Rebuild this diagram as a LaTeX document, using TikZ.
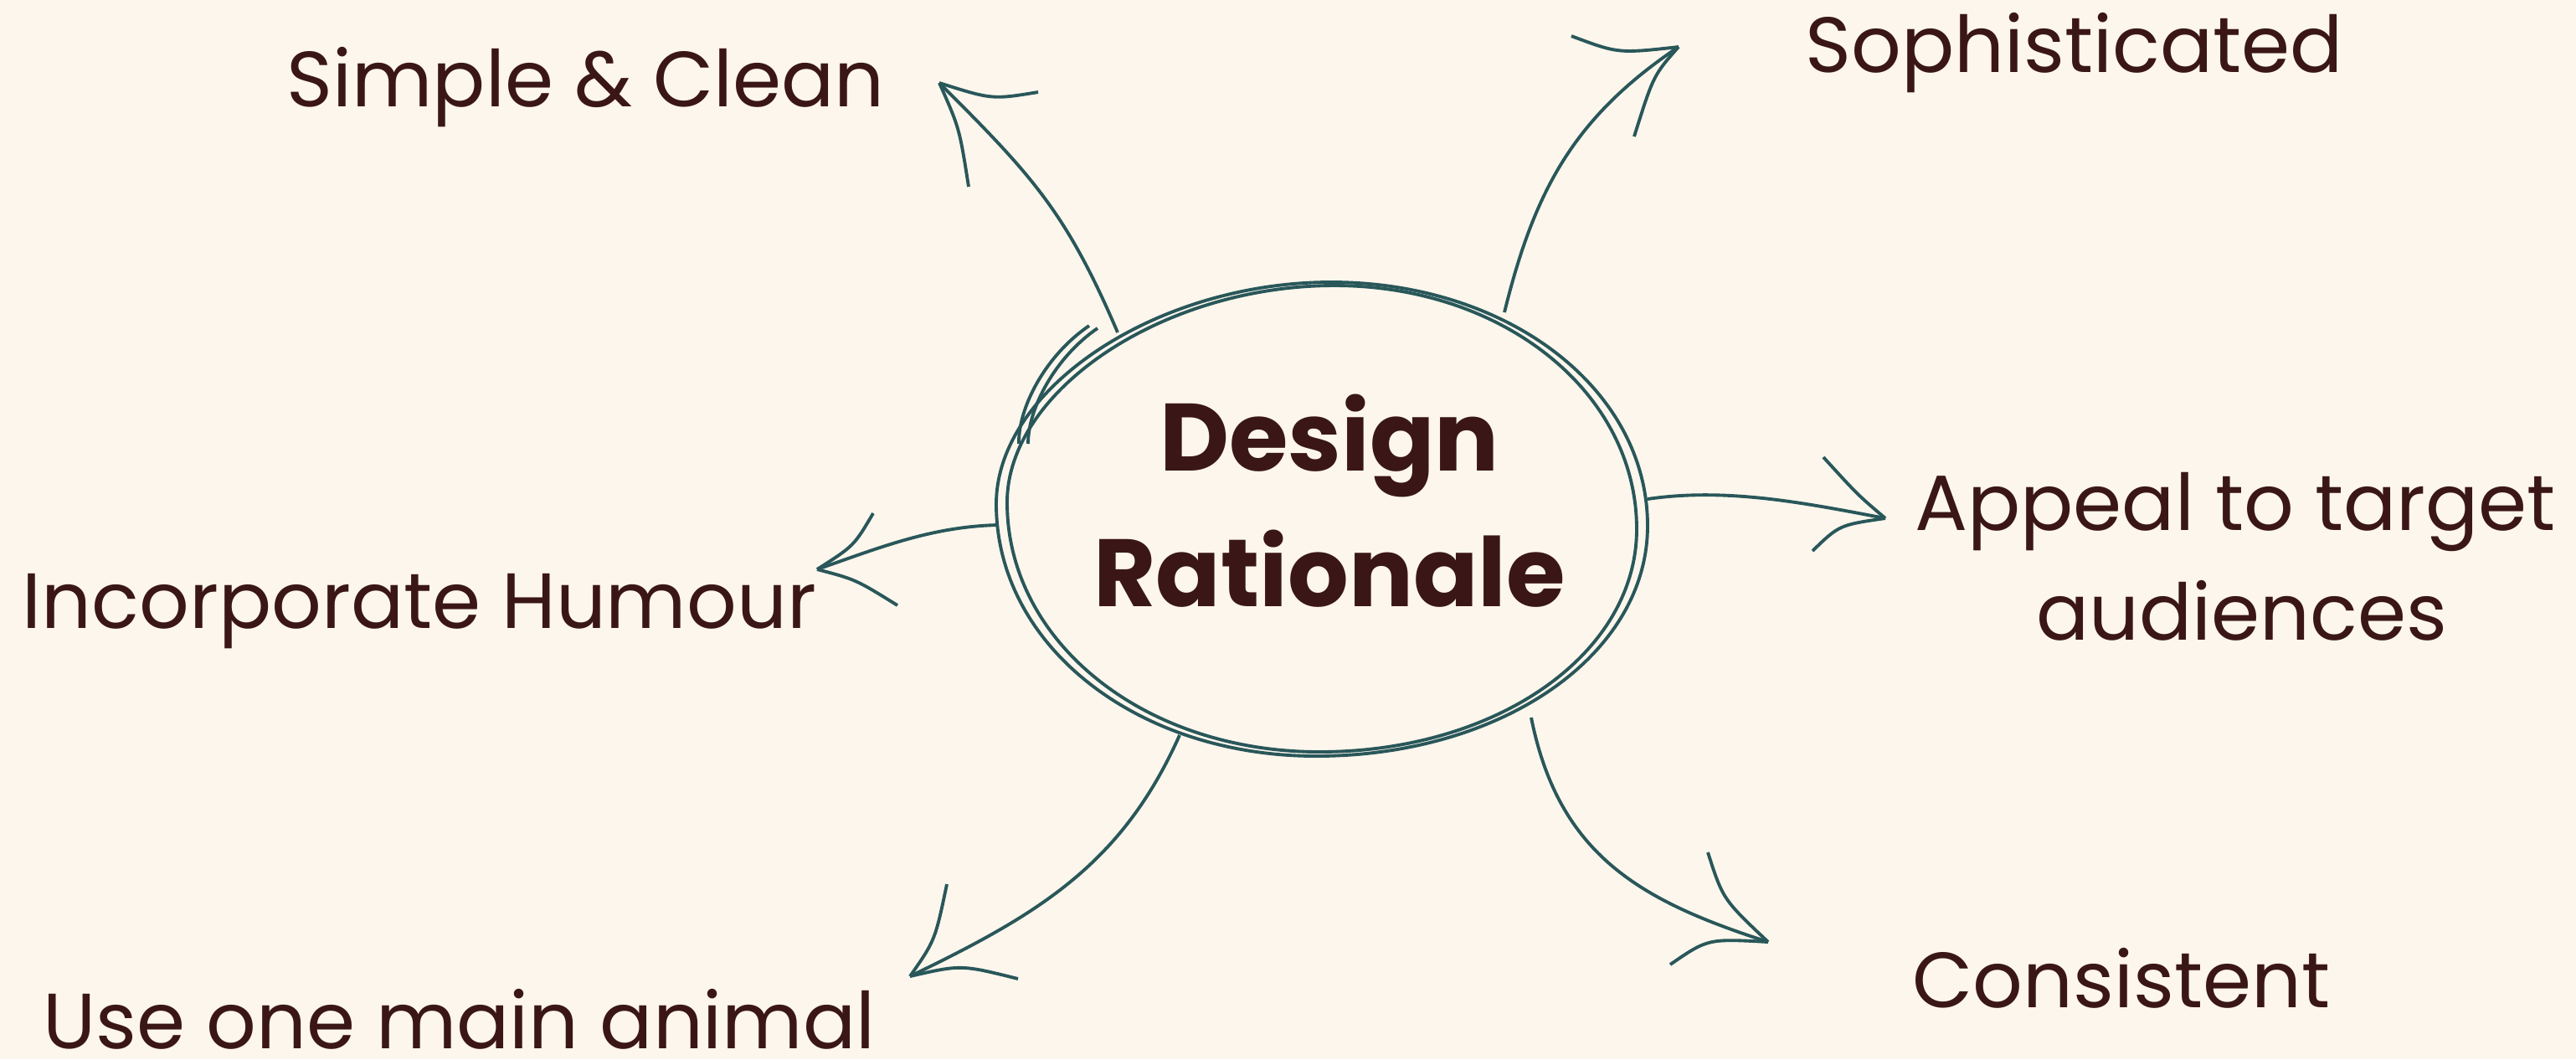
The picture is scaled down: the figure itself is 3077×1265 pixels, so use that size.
\documentclass[tikz,border=0pt]{standalone}
\usepackage{fontspec}
\setmainfont{Poppins}
\definecolor{bg}{HTML}{FDF6EC}
\definecolor{ink}{HTML}{29575A}
\definecolor{txt}{HTML}{3A1716}
\tikzset{
  stroke/.style={draw=ink, line width=1.1pt},
  lbl/.style={text=txt, font=\fontsize{26.6}{37}\selectfont, inner sep=0pt, anchor=base west},
  ttl/.style={text=txt, font=\fontsize{32.5}{45.8}\selectfont\bfseries, inner sep=0pt, align=center, anchor=base},
}
\begin{document}
\begin{tikzpicture}[x=0.01cm,y=-0.01cm]
\fill[bg] (0,0) rectangle (3077,1265);
\useasboundingbox (0,0) rectangle (3077,1265);

% centre loop (two strokes) and short arcs
\draw[stroke] (1590,337) .. controls (1802,337) and (1968,465) .. (1968,628)
  .. controls (1968,782) and (1794,903) .. (1572,903)
  .. controls (1358,903) and (1190,771) .. (1190,602)
  .. controls (1190,464) and (1382,337) .. cycle;
\draw[stroke] (1594,341) .. controls (1796,341) and (1955,469) .. (1955,632)
  .. controls (1955,781) and (1788,898) .. (1576,898)
  .. controls (1367,898) and (1203,767) .. (1203,600)
  .. controls (1203,466) and (1390,341) .. cycle;
\draw[stroke] (1217,530) .. controls (1216,488) and (1248,425) .. (1301,389);
\draw[stroke] (1228,530) .. controls (1228,488) and (1260,427) .. (1311,392);

\node[ttl] (centre) at (1588,724) {Design\\Rationale};

% labels
\node[lbl] (simple) at (342,127) {Simple \& Clean};
\node[lbl] (soph) at (2156,86) {Sophisticated};
\node[lbl] (humour) at (26,750) {Incorporate Humour};
\node[lbl, align=center, anchor=base] (appeal) at (2670,764) {Appeal to target\\\hspace*{0.16cm}audiences};
\node[lbl] (consistent) at (2284,1203) {Consistent};
\node[lbl] (animal) at (51,1252) {Use one main animal};

% arrow start points (on the loop) and tips
\coordinate (s1) at (1335,397); \coordinate (t1) at (1122,99);
\coordinate (s2) at (1797,373); \coordinate (t2) at (2005,56);
\coordinate (s3) at (1968,596); \coordinate (t3) at (2252,619);
\coordinate (s4) at (1192,627); \coordinate (t4) at (976,680);
\coordinate (s5) at (1409,878); \coordinate (t5) at (1087,1166);
\coordinate (s6) at (1829,857); \coordinate (t6) at (2112,1125);

% shafts
\draw[stroke] (s1) .. controls +(-62,-145) and +(110,110) .. (t1);
\draw[stroke] (s2) .. controls +(36,-146) and +(-125,84) .. (t2);
\draw[stroke] (s3) .. controls +(95,-14) and +(-95,-18) .. (t3);
\draw[stroke] (s4) .. controls +(-80,2) and +(75,-26) .. (t4);
\draw[stroke] (s5) .. controls +(-69,155) and +(153,-74) .. (t5);
\draw[stroke] (s6) .. controls +(33,165) and +(-152,-49) .. (t6);

% barbs
\draw[stroke] (t1) .. controls (1185,119) .. (1240,110);
\draw[stroke] (t1) .. controls (1146,153) .. (1157,223);
\draw[stroke] (t2) .. controls (1933,64) .. (1877,43);
\draw[stroke] (t2) .. controls (1975,90) .. (1952,163);
\draw[stroke] (t3) .. controls (2219,591) .. (2178,546);
\draw[stroke] (t3) .. controls (2197,627) .. (2165,658);
\draw[stroke] (t4) .. controls (1020,652) .. (1043,613);
\draw[stroke] (t4) .. controls (1022,692) .. (1072,723);
\draw[stroke] (t5) .. controls (1117,1123) .. (1131,1056);
\draw[stroke] (t5) .. controls (1148,1152) .. (1216,1169);
\draw[stroke] (t6) .. controls (2058,1074) .. (2040,1018);
\draw[stroke] (t6) .. controls (2040,1121) .. (1995,1152);
\end{tikzpicture}
\end{document}
